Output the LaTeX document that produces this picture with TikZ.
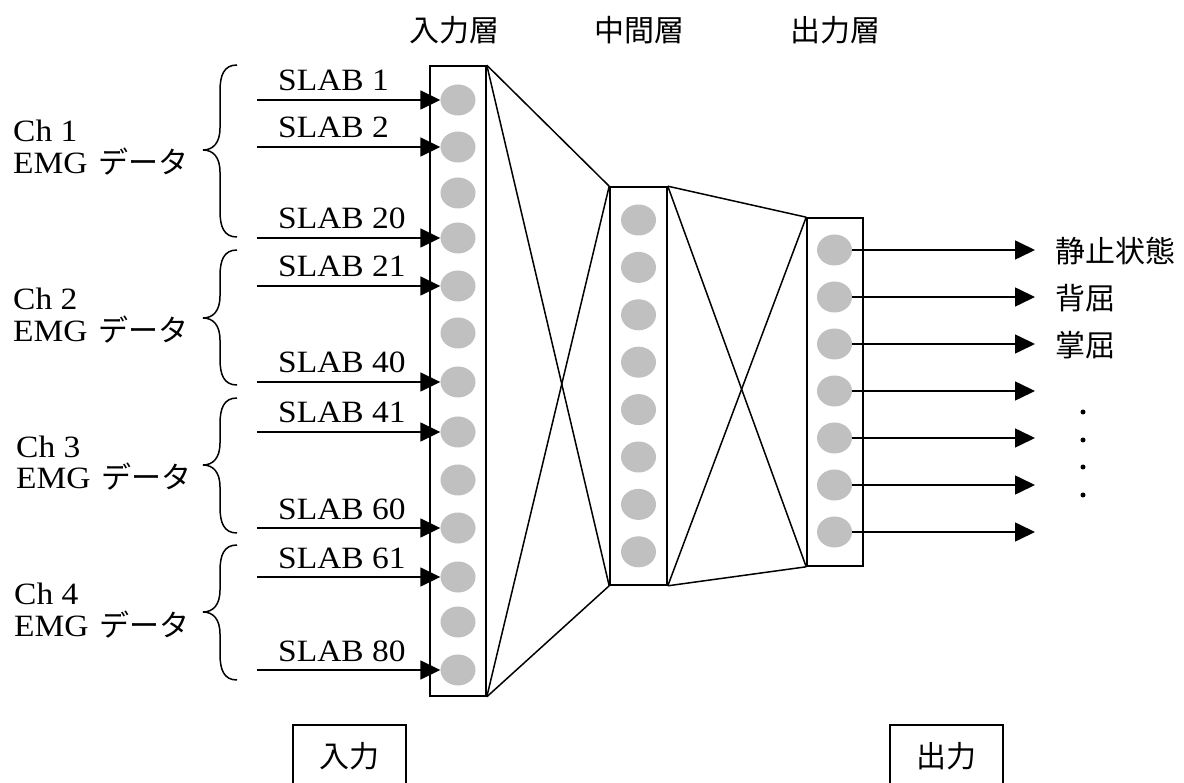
\documentclass[tikz,border=0pt]{standalone}
\usepackage{fontspec}
\usepackage{graphicx}
\setmainfont{Liberation Serif}
\newfontfamily\jp{Noto Sans CJK JP}
\usetikzlibrary{shapes.geometric,arrows.meta}
\newcommand\lt[1]{\scalebox{1.08}[1]{\fontsize{31}{36}\selectfont #1}}
\newcommand\jt[1]{{\jp\fontsize{30}{36}\selectfont #1}}
\definecolor{cgray}{RGB}{192,192,192}
\begin{document}
\begin{tikzpicture}[x=1pt,y=-1pt,
  layerbox/.style={draw,line width=1.6pt,inner sep=0pt,fill=none},
  neuron/.style={ellipse,fill=cgray,draw=none,minimum width=35pt,minimum height=31pt,inner sep=0pt},
  conn/.style={line width=1.5pt},
  inarrow/.style={line width=1.6pt,-{Triangle[length=20pt,width=19pt]}},
  brace/.style={line width=1.5pt},
  slab/.style={anchor=base west,inner sep=0pt},
  chlab/.style={anchor=base west,inner sep=0pt},
  jplab/.style={inner sep=0pt},
  outlab/.style={anchor=west,inner sep=0pt},
  dotnode/.style={circle,fill=black,minimum size=5pt,inner sep=0pt},
  labbox/.style={draw,line width=1.5pt,minimum width=113pt,minimum height=62pt,inner sep=0pt}
]
\clip (0,0) rectangle (1184,783);
\fill[white] (0,0) rectangle (1184,783);

% layer titles
\node[jplab] (t1) at (454,30) {\jt{入力層}};
\node[jplab] (t2) at (639,30) {\jt{中間層}};
\node[jplab] (t3) at (835,30) {\jt{出力層}};

% layer boxes
\node[layerbox,minimum width=56pt,minimum height=630pt] (inbox) at (458,381) {};
\node[layerbox,minimum width=57pt,minimum height=398pt] (midbox) at (638.5,386) {};
\node[layerbox,minimum width=56pt,minimum height=348pt] (outbox) at (835,392) {};

% connections
\draw[conn] (inbox.north east) -- (midbox.north west);
\draw[conn] (inbox.north east) -- (midbox.south west);
\draw[conn] (inbox.south east) -- (midbox.north west);
\draw[conn] (inbox.south east) -- (midbox.south west);
\draw[conn] (midbox.north east) -- (outbox.north west);
\draw[conn] (midbox.north east) -- (outbox.south west);
\draw[conn] (midbox.south east) -- (outbox.north west);
\draw[conn] (midbox.south east) -- (outbox.south west);

% input neurons
\foreach \i/\y in {1/100,2/147,3/193,4/238,5/286,6/333,7/382,8/432,9/480,10/528,11/577,12/622,13/670}{
  \node[neuron] (ic\i) at (458,\y) {};
}
% middle neurons
\foreach \i in {0,...,7}{
  \node[neuron] (mc\i) at (638.5,220+47.4*\i) {};
}
% output neurons
\foreach \i/\y in {1/250,2/297,3/344,4/391,5/438,6/485,7/532}{
  \node[neuron] (oc\i) at (834.5,\y) {};
}

% input arrows and labels
\foreach \i/\y/\t in {1/100/SLAB 1,2/147/SLAB 2,4/238/SLAB 20,5/286/SLAB 21,7/382/SLAB 40,8/432/SLAB 41,10/528/SLAB 60,11/577/SLAB 61,13/670/SLAB 80}{
  \coordinate (s\i) at (257,\y);
  \draw[inarrow] (s\i) -- (ic\i);
  \node[slab] (sl\i) at (278,\y-9) {\lt{\t}};
}

% braces
\foreach \n/\T/\M/\B in {1/65/150/237,2/250/318/385,3/398/465/533,4/545/612/680}{
  \draw[brace] (237,\T) .. controls (224,\T) and (220,\T+10) .. (220,\T+26)
    -- (220,\M-22) .. controls (220,\M-7) and (213,\M) .. (203,\M)
    .. controls (213,\M) and (220,\M+7) .. (220,\M+22)
    -- (220,\B-26) .. controls (220,\B-10) and (224,\B) .. (237,\B);
}

% channel labels
\foreach \n/\x/\M in {1/13/150,2/13/318,3/16/465,4/14/612}{
  \node[chlab] (ch\n) at (\x,\M-8) {\lt{Ch \n}};
  \node[chlab] (emg\n) at (\x,\M+24) {\lt{EMG}\hspace{11pt}\jt{データ}};
}

% output arrows
\foreach \i/\y in {1/250,2/297,3/344,4/391,5/438,6/485,7/532}{
  \coordinate (e\i) at (1035,\y);
  \draw[inarrow] (oc\i) -- (e\i);
}
\node[outlab] (o1) at (1055,251) {\jt{静止状態}};
\node[outlab] (o2) at (1055,298) {\jt{背屈}};
\node[outlab] (o3) at (1055,345) {\jt{掌屈}};

% dots
\node[dotnode] (d1) at (1083,412) {};
\node[dotnode] (d2) at (1083,440) {};
\node[dotnode] (d3) at (1083,467) {};
\node[dotnode] (d4) at (1083,495) {};

% bottom boxes
\node[labbox] (inlab) at (349.5,756) {\jt{入力}};
\node[labbox] (outlabbox) at (946.5,756) {\jt{出力}};
\end{tikzpicture}
\end{document}
